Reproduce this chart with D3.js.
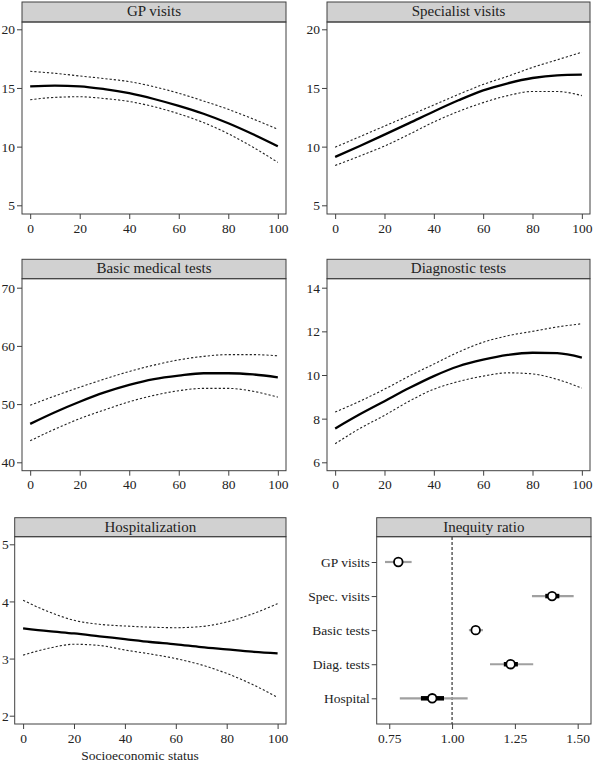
<!DOCTYPE html>
<html><head><meta charset="utf-8">
<script src="https://cdn.jsdelivr.net/npm/d3@7"></script>
<style>body{margin:0;background:#fff}svg{display:block}text{font-family:"Liberation Serif","DejaVu Serif",serif;fill:#222}</style>
</head><body>
<svg id="c" width="594" height="764"></svg>
<script>
const xs = [0,10,20,30,40,50,60,70,80,90,100];

const gpMean  = [15.14,15.2,15.14,14.9,14.55,14.06,13.47,12.8,11.99,11.05,10.03];
const gpUpper = [16.42,16.25,16.02,15.8,15.54,15.11,14.55,13.89,13.18,12.36,11.48];
const gpLower = [14.0,14.2,14.25,14.1,13.85,13.4,12.8,12.05,11.1,9.95,8.66];

const spMean  = [9.12,10.05,11.02,12.0,13.0,13.95,14.8,15.4,15.85,16.08,16.13];
const spUpper = [9.95,10.85,11.75,12.65,13.55,14.45,15.3,16.0,16.75,17.4,18.05];
const spLower = [8.4,9.2,10.05,11.05,12.1,13.0,13.75,14.35,14.7,14.7,14.35];

const bmMean  = [46.6,48.6,50.4,52.0,53.3,54.3,54.9,55.3,55.3,55.1,54.6];
const bmUpper = [49.8,51.4,52.9,54.3,55.6,56.7,57.6,58.2,58.5,58.5,58.3];
const bmLower = [43.7,45.7,47.5,49.0,50.4,51.5,52.3,52.7,52.7,52.2,51.2];

const dtMean  = [7.55,8.2,8.8,9.4,9.95,10.4,10.7,10.92,11.02,11.0,10.8];
const dtUpper = [8.3,8.8,9.35,9.95,10.5,11.05,11.5,11.8,12.0,12.2,12.35];
const dtLower = [6.85,7.55,8.15,8.8,9.35,9.7,9.95,10.1,10.05,9.8,9.4];

const hoMean  = [3.53,3.48,3.44,3.39,3.34,3.29,3.25,3.2,3.16,3.12,3.09];
const hoUpper = [4.02,3.82,3.67,3.6,3.57,3.55,3.54,3.56,3.64,3.78,3.96];
const hoLower = [3.06,3.18,3.25,3.23,3.15,3.08,3.0,2.89,2.74,2.55,2.32];

const xTicks = [0,20,40,60,80,100];
const gpTicks = [5,10,15,20];
const spTicks = [5,10,15,20];
const bmTicks = [40,50,60,70];
const dtTicks = [6,8,10,12,14];
const hoTicks = [2,3,4,5];

const irCats  = ["GP visits","Spec. visits","Basic tests","Diag. tests","Hospital"];
const irPoint = [0.786,1.398,1.094,1.233,0.921];
const irLo95  = [0.733,1.318,1.067,1.151,0.792];
const irHi95  = [0.839,1.484,1.123,1.323,1.062];
const irLo50  = [0.772,1.371,1.085,1.206,0.876];
const irHi50  = [0.800,1.427,1.103,1.262,0.968];
const irTicks = [0.75,1.00,1.25,1.50];

const svg = d3.select("#c");
const FRAME = "#404040";
const FS = 13.5;

function panel(o){
  const g = svg.append("g");
  const x = d3.scaleLinear().domain(o.xdom).range([o.left,o.right]);
  const y = o.yscale;
  g.append("rect").attr("x",o.left).attr("y",o.top).attr("width",o.right-o.left).attr("height",o.ptop-o.top)
    .attr("fill","#d1d1d1").attr("stroke",FRAME).attr("stroke-width",1);
  g.append("text").attr("x",(o.left+o.right)/2).attr("y",o.top+13.8).attr("text-anchor","middle")
    .attr("font-size",15).text(o.title);
  g.append("rect").attr("x",o.left).attr("y",o.ptop).attr("width",o.right-o.left).attr("height",o.bottom-o.ptop)
    .attr("fill","none").attr("stroke",FRAME).attr("stroke-width",1);
  const xa = g.append("g").attr("transform",`translate(0,${o.bottom})`)
    .call(d3.axisBottom(x).tickValues(o.xticks).tickSize(5).tickPadding(4).tickFormat(o.xfmt||d3.format("d")));
  xa.select(".domain").remove();
  xa.attr("font-family",null).attr("font-size",null);
  xa.selectAll("line").attr("stroke",FRAME);
  xa.selectAll("text").attr("font-size",FS).attr("dy","0.71em").attr("fill","#222");
  const ya = g.append("g").attr("transform",`translate(${o.left},0)`)
    .call(d3.axisLeft(y).tickValues(o.yticks).tickSize(5).tickPadding(o.ypad==null?2:o.ypad)
      .tickFormat(o.yfmt||d3.format("d")));
  ya.select(".domain").remove();
  ya.attr("font-family",null).attr("font-size",null);
  ya.selectAll("line").attr("stroke",FRAME);
  ya.selectAll("text").attr("font-size",FS).attr("dy","0.34em").attr("fill","#222");
  return {g,x,y};
}

function curves(o, mean, upper, lower){
  const p = panel(o);
  const line = d3.line().x((d,i)=>p.x(xs[i])).y(d=>p.y(d)).curve(d3.curveMonotoneX);
  [upper,lower].forEach(arr=>{
    p.g.append("path").attr("d",line(arr)).attr("fill","none").attr("stroke","#222")
      .attr("stroke-width",1.1).attr("stroke-dasharray","2.2,2");
  });
  p.g.append("path").attr("d",line(mean)).attr("fill","none").attr("stroke","#000").attr("stroke-width",2.3);
}

const XD = [-3.3,103.3];
curves({title:"GP visits",left:22,right:286,top:2,ptop:22,bottom:214,xdom:XD,xticks:xTicks,
  yscale:d3.scaleLinear().domain([5,20]).range([205.3,29.3]),yticks:gpTicks},gpMean,gpUpper,gpLower);
curves({title:"Specialist visits",left:327,right:590,top:2,ptop:22,bottom:214,xdom:XD,xticks:xTicks,
  yscale:d3.scaleLinear().domain([5,20]).range([205.3,29.3]),yticks:spTicks},spMean,spUpper,spLower);
curves({title:"Basic medical tests",left:22,right:286,top:259.3,ptop:278.7,bottom:470.7,xdom:XD,xticks:xTicks,
  yscale:d3.scaleLinear().domain([40,70]).range([462.3,287.7]),yticks:bmTicks},bmMean,bmUpper,bmLower);
curves({title:"Diagnostic tests",left:327,right:590,top:259.3,ptop:278.7,bottom:470.7,xdom:XD,xticks:xTicks,
  yscale:d3.scaleLinear().domain([6,14]).range([462.3,287.7]),yticks:dtTicks},dtMean,dtUpper,dtLower);
curves({title:"Hospitalization",left:14.7,right:286,top:517.7,ptop:536.7,bottom:724,xdom:XD,xticks:xTicks,ypad:1,
  yscale:d3.scaleLinear().domain([2,5]).range([715.7,544.3]),yticks:hoTicks},hoMean,hoUpper,hoLower);

svg.append("text").attr("x",140).attr("y",760).attr("text-anchor","middle").attr("font-size",13.5).text("Socioeconomic status");

(function(){
  const yb = d3.scalePoint().domain(irCats).range([562,698.3]);
  const p = panel({title:"Inequity ratio",left:376.7,right:591,top:517.7,ptop:536.7,bottom:724,
    xdom:[0.70,1.553],xticks:irTicks,xfmt:d3.format(".2f"),yscale:yb,yticks:irCats,yfmt:d=>d});
  const x = p.x;
  p.g.append("line").attr("x1",x(1)).attr("x2",x(1)).attr("y1",537).attr("y2",724)
    .attr("stroke","#333").attr("stroke-width",1.2).attr("stroke-dasharray","3,2");
  irCats.forEach((c,i)=>{
    const yy = yb(c);
    p.g.append("line").attr("x1",x(irLo95[i])).attr("x2",x(irHi95[i])).attr("y1",yy).attr("y2",yy)
      .attr("stroke","#a0a0a0").attr("stroke-width",2.2);
    p.g.append("line").attr("x1",x(irLo50[i])).attr("x2",x(irHi50[i])).attr("y1",yy).attr("y2",yy)
      .attr("stroke","#000").attr("stroke-width",4.5);
    p.g.append("circle").attr("cx",x(irPoint[i])).attr("cy",yy).attr("r",4.3)
      .attr("fill","#fff").attr("stroke","#000").attr("stroke-width",1.8);
  });
})();
</script>
</body></html>
